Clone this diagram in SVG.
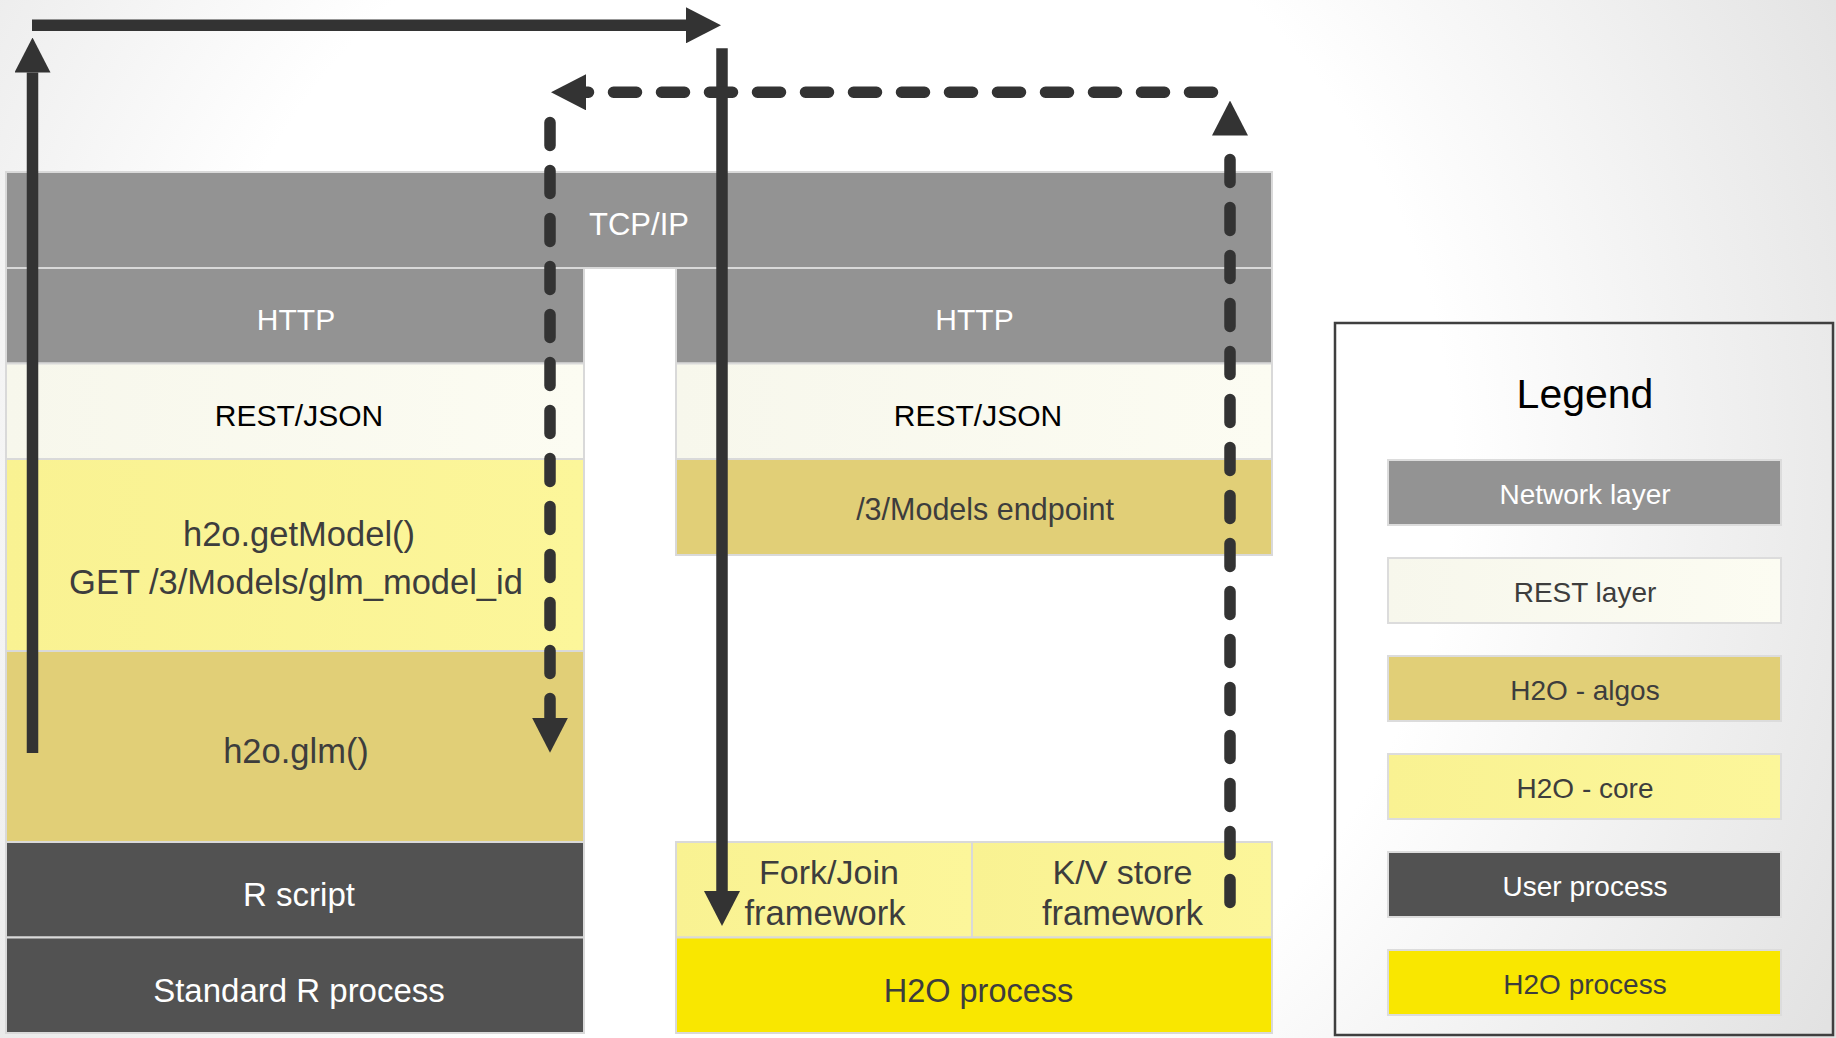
<svg xmlns="http://www.w3.org/2000/svg" width="1836" height="1038" viewBox="0 0 1836 1038">
  <defs>
    <radialGradient id="bg" cx="820" cy="470" r="1150" gradientUnits="userSpaceOnUse">
      <stop offset="0" stop-color="#ffffff"/>
      <stop offset="0.55" stop-color="#ffffff"/>
      <stop offset="1" stop-color="#e2e2e2"/>
    </radialGradient>
    <linearGradient id="gRest" x1="0" y1="0" x2="1" y2="0">
      <stop offset="0" stop-color="#f7f7ec"/>
      <stop offset="1" stop-color="#fcfcf2"/>
    </linearGradient>
    <linearGradient id="gCore" x1="0" y1="0" x2="1" y2="0">
      <stop offset="0" stop-color="#f9f292"/>
      <stop offset="1" stop-color="#fcf69a"/>
    </linearGradient>
    <marker id="ah" viewBox="0 0 35 36" refX="0" refY="18" markerWidth="35" markerHeight="36" markerUnits="userSpaceOnUse" orient="auto">
      <path d="M0,0 L35,18 L0,36 Z" fill="#333333"/>
    </marker>
    <style>
      .band { stroke: #d9d9d9; stroke-width: 2; }
      .net { fill: #939393; }
      .rest { fill: url(#gRest); }
      .core { fill: url(#gCore); }
      .algo { fill: #e1cf77; }
      .user { fill: #525252; }
      .proc { fill: #f9e700; }
      text { font-family: "Liberation Sans", Arial, sans-serif; text-anchor: middle; }
      .w { fill: #ffffff; }
      .k { fill: #000000; }
      .d { fill: #3d3d3d; }
      .solid { fill: none; stroke: #333333; stroke-width: 11.5; stroke-linecap: butt; }
      .dash { fill: none; stroke: #333333; stroke-width: 11.5; stroke-linecap: round; stroke-dasharray: 23 25; }
      .lg { stroke: #dcdcdc; stroke-width: 2; }
    </style>
  </defs>

  <rect x="0" y="0" width="1836" height="1038" fill="url(#bg)"/>

  <!-- Network layer -->
  <g id="tcpip">
    <rect class="band net" x="6" y="172" width="1266" height="96"/>
    <text class="w" x="639" y="235" font-size="31">TCP/IP</text>
  </g>

  <!-- Left stack -->
  <g id="http-left">
    <rect class="band net" x="6" y="268" width="578" height="95.5"/>
    <text class="w" x="296" y="330" font-size="30">HTTP</text>
  </g>
  <g id="rest-left">
    <rect class="band rest" x="6" y="363.5" width="578" height="95.5"/>
    <text class="k" x="299" y="426" font-size="30">REST/JSON</text>
  </g>
  <g id="getmodel">
    <rect class="band core" x="6" y="459" width="578" height="192"/>
    <text class="d" x="299" y="546" font-size="34.5">h2o.getModel()</text>
    <text class="d" x="296" y="594" font-size="34.5">GET /3/Models/glm_model_id</text>
  </g>
  <g id="glm">
    <rect class="band algo" x="6" y="651" width="578" height="191"/>
    <text class="d" x="296" y="763" font-size="34.5">h2o.glm()</text>
  </g>
  <g id="rscript">
    <rect class="band user" x="6" y="842" width="578" height="95.5"/>
    <text class="w" x="299" y="906" font-size="33">R script</text>
  </g>
  <g id="stdr">
    <rect class="band user" x="6" y="937.5" width="578" height="95.5"/>
    <text class="w" x="299" y="1002" font-size="33">Standard R process</text>
  </g>

  <!-- Right stack -->
  <g id="http-right">
    <rect class="band net" x="676" y="268" width="596" height="95.5"/>
    <text class="w" x="974.5" y="330" font-size="30">HTTP</text>
  </g>
  <g id="rest-right">
    <rect class="band rest" x="676" y="363.5" width="596" height="95.5"/>
    <text class="k" x="978" y="426" font-size="30">REST/JSON</text>
  </g>
  <g id="endpoint">
    <rect class="band algo" x="676" y="459" width="596" height="96"/>
    <text class="d" x="985" y="520" font-size="30.5">/3/Models endpoint</text>
  </g>
  <g id="forkjoin">
    <rect class="band core" x="676" y="842" width="296" height="95.5"/>
    <text class="d" x="829" y="884" font-size="34">Fork/Join</text>
    <text class="d" x="825" y="925" font-size="34.5">framework</text>
  </g>
  <g id="kvstore">
    <rect class="band core" x="972" y="842" width="300" height="95.5"/>
    <text class="d" x="1122.5" y="884" font-size="34">K/V store</text>
    <text class="d" x="1122.5" y="925" font-size="34.5">framework</text>
  </g>
  <g id="h2oprocess">
    <rect class="band proc" x="676" y="937.5" width="596" height="95.5"/>
    <text class="d" x="978.5" y="1002" font-size="32.5">H2O process</text>
  </g>

  <!-- Connectors -->
  <g id="connectors">
    <path class="solid" d="M32.5,753 L32.5,72.5" marker-end="url(#ah)"/>
    <path class="solid" d="M32,25.3 L686,25.3" marker-end="url(#ah)"/>
    <path class="solid" d="M722,48.3 L722,891" marker-end="url(#ah)"/>
    <path class="dash" d="M1230,902.5 L1230,135.5" marker-end="url(#ah)"/>
    <path class="dash" d="M1212.5,92.3 L586,92.3" marker-end="url(#ah)"/>
    <path class="dash" d="M550,122.5 L550,717.7" marker-end="url(#ah)"/>
  </g>

  <!-- Legend -->
  <g id="legend">
    <rect x="1335" y="323" width="498" height="712" fill="none" stroke="#3f3f3f" stroke-width="2.5"/>
    <text class="k" x="1585" y="408" font-size="41">Legend</text>
    <g id="legend-network">
      <rect class="lg net" x="1388" y="460" width="393" height="65"/>
      <text class="w" x="1585" y="504" font-size="28">Network layer</text>
    </g>
    <g id="legend-rest">
      <rect class="lg rest" x="1388" y="558" width="393" height="65"/>
      <text class="d" x="1585" y="602" font-size="28">REST layer</text>
    </g>
    <g id="legend-algos">
      <rect class="lg algo" x="1388" y="656" width="393" height="65"/>
      <text class="d" x="1585" y="700" font-size="28">H2O - algos</text>
    </g>
    <g id="legend-core">
      <rect class="lg core" x="1388" y="754" width="393" height="65"/>
      <text class="d" x="1585" y="798" font-size="28">H2O - core</text>
    </g>
    <g id="legend-user">
      <rect class="lg user" x="1388" y="852" width="393" height="65"/>
      <text class="w" x="1585" y="896" font-size="28">User process</text>
    </g>
    <g id="legend-h2o">
      <rect class="lg proc" x="1388" y="950" width="393" height="65"/>
      <text class="d" x="1585" y="994" font-size="28">H2O process</text>
    </g>
  </g>
</svg>
